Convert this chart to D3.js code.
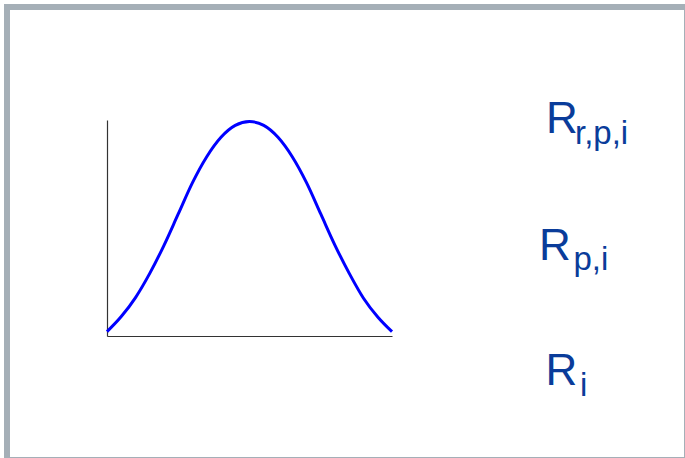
<!DOCTYPE html>
<html>
<head>
<meta charset="utf-8">
<script src="https://cdn.jsdelivr.net/npm/d3@7"></script>
<style>
  html, body { margin: 0; padding: 0; background: #fff; }
  svg { display: block; }
</style>
</head>
<body>
<svg id="chart" width="685" height="458"></svg>
<script>
// curve, x in 0..10, y in 0..1
const curveX = [0, 0.5, 1, 1.5, 2, 2.5, 3, 3.5, 4, 4.5, 5, 5.5, 6, 6.5, 7, 7.5, 8, 8.5, 9, 9.5, 10]
const curveY = [0.02, 0.09, 0.178, 0.29, 0.42, 0.565, 0.71, 0.83, 0.92, 0.975, 0.993,
  0.975, 0.92, 0.83, 0.71, 0.565, 0.42, 0.29, 0.175, 0.088, 0.02]

// labels on the right
const labelMain = ['R', 'R', 'R']
const labelSub = ['r,p,i', 'p,i', 'i']

const svg = d3.select('#chart')
const W = 685
const H = 458

// frame
svg.append('rect')
  .attr('x', 7).attr('y', 7)
  .attr('width', W - 7 + 2).attr('height', H - 7 + 2)
  .attr('fill', 'none')
  .attr('stroke', '#a5afb7')
  .attr('stroke-width', 6)

const x = d3.scaleLinear().domain([0, 10]).range([107, 392])
const y = d3.scaleLinear().domain([0, 1]).range([336, 120])

const axisColor = '#333'

svg.append('g')
  .attr('transform', 'translate(0,' + y(0) + ')')
  .call(d3.axisBottom(x).tickValues([]).tickSizeOuter(0))
  .call(g => g.select('.domain').attr('stroke', axisColor).attr('stroke-width', 1.2))

svg.append('g')
  .attr('transform', 'translate(' + x(0) + ',0)')
  .call(d3.axisLeft(y).tickValues([]).tickSizeOuter(0))
  .call(g => g.select('.domain').attr('stroke', axisColor).attr('stroke-width', 1.2))

const pts = curveX.map((d, i) => [d, curveY[i]])

const line = d3.line()
  .x(d => x(d[0]))
  .y(d => y(d[1]))
  .curve(d3.curveMonotoneX)

svg.append('path')
  .datum(pts)
  .attr('d', line)
  .attr('fill', 'none')
  .attr('stroke', '#0000ff')
  .attr('stroke-width', 3)

// label positions (main baseline, sub baseline)
const labelPos = [
  {x: 546, y: 133, sx: 575, sy: 144},
  {x: 539, y: 260, sx: 573.5, sy: 270},
  {x: 545.5, y: 385, sx: 580, sy: 396}
]

const labels = svg.append('g')
  .attr('fill', '#0a3c9a')
  .attr('font-family', '"Liberation Sans", Arial, sans-serif')

labelMain.forEach((m, i) => {
  const p = labelPos[i]
  labels.append('text')
    .attr('x', p.x).attr('y', p.y)
    .attr('font-size', 44)
    .text(m)
  labels.append('text')
    .attr('x', p.sx).attr('y', p.sy)
    .attr('font-size', 33)
    .text(labelSub[i])
})
</script>
</body>
</html>
